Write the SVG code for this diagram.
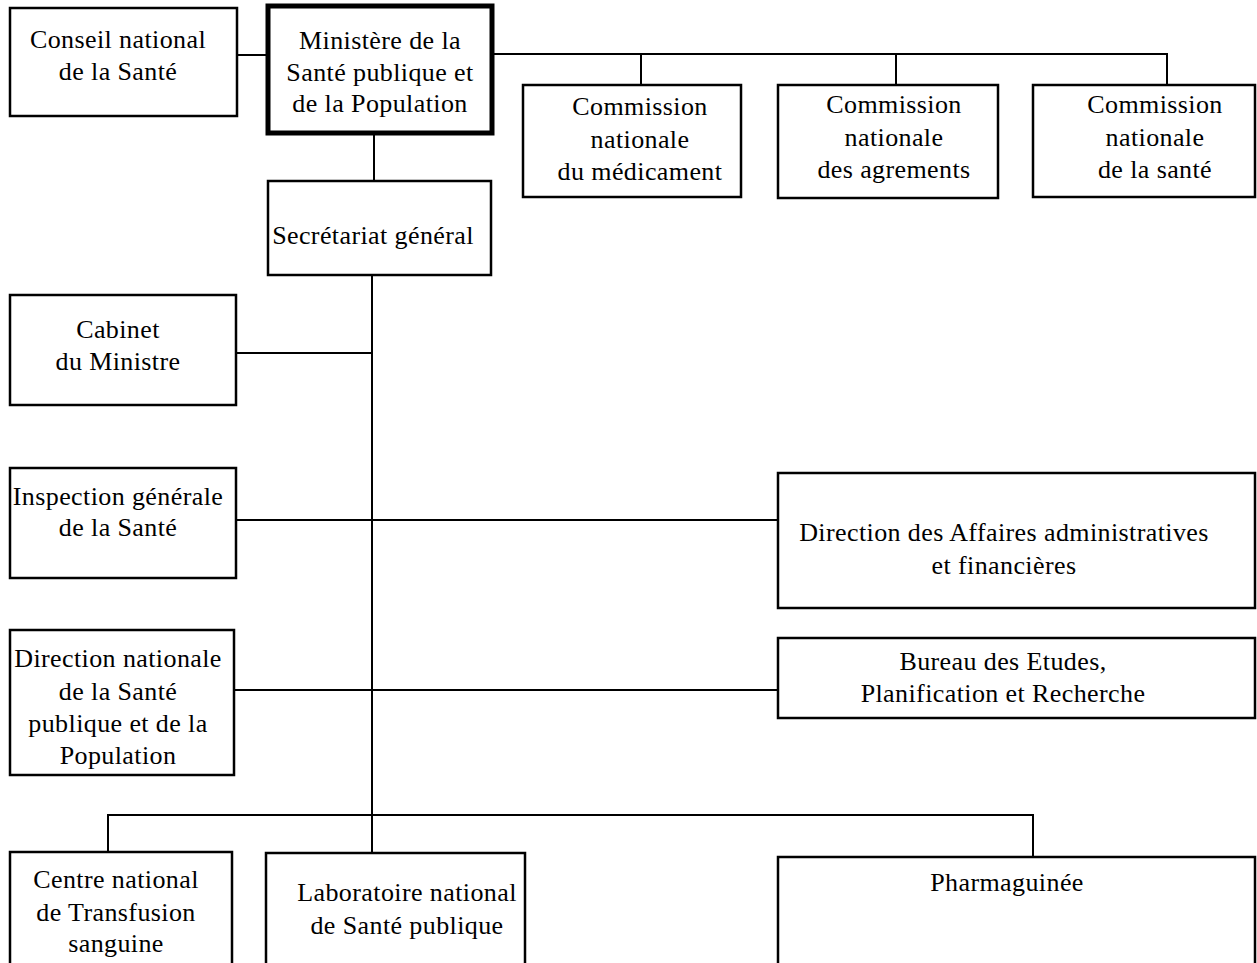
<svg xmlns="http://www.w3.org/2000/svg" width="1257" height="963" viewBox="0 0 1257 963">
<style>
.box{fill:#fff;stroke:#000;stroke-width:2.5}
.thick{stroke-width:5}
.t{font-family:"Liberation Serif","Times New Roman",serif;font-size:26px;letter-spacing:0.4px;fill:#000;text-anchor:middle}
.c{stroke:#000;stroke-width:2;fill:none}
</style>
<rect width="1257" height="963" fill="#fff"/>
<g id="connectors">
<line class="c" x1="237" y1="55" x2="268" y2="55"/>
<polyline class="c" points="492,54 1167,54 1167,85"/>
<line class="c" x1="641" y1="54" x2="641" y2="85"/>
<line class="c" x1="896" y1="54" x2="896" y2="85"/>
<line class="c" x1="374" y1="133" x2="374" y2="181"/>
<line class="c" x1="372" y1="275" x2="372" y2="853"/>
<line class="c" x1="236" y1="353" x2="372" y2="353"/>
<line class="c" x1="236" y1="520" x2="778" y2="520"/>
<line class="c" x1="234" y1="690" x2="778" y2="690"/>
<polyline class="c" points="108,852 108,815 1033,815 1033,857"/>
</g>
<g id="conseil"><rect class="box" x="10" y="8" width="227" height="108"/><text class="t" x="118" y="48">Conseil national</text><text class="t" x="118" y="80">de la Santé</text></g>
<g id="ministere"><rect class="box thick" x="268" y="6" width="224" height="127"/><text class="t" x="380" y="49">Ministère de la</text><text class="t" x="380" y="81">Santé publique et</text><text class="t" x="380" y="112">de la Population</text></g>
<g id="secretariat"><rect class="box" x="268" y="181" width="223" height="94"/><text class="t" x="373" y="244">Secrétariat général</text></g>
<g id="com1"><rect class="box" x="523" y="85" width="218" height="112"/><text class="t" x="640" y="115">Commission</text><text class="t" x="640" y="148">nationale</text><text class="t" x="640" y="180">du médicament</text></g>
<g id="com2"><rect class="box" x="778" y="85" width="220" height="113"/><text class="t" x="894" y="113">Commission</text><text class="t" x="894" y="146">nationale</text><text class="t" x="894" y="178">des agrements</text></g>
<g id="com3"><rect class="box" x="1033" y="85" width="222" height="112"/><text class="t" x="1155" y="113">Commission</text><text class="t" x="1155" y="146">nationale</text><text class="t" x="1155" y="178">de la santé</text></g>
<g id="cabinet"><rect class="box" x="10" y="295" width="226" height="110"/><text class="t" x="118" y="338">Cabinet</text><text class="t" x="118" y="370">du Ministre</text></g>
<g id="inspection"><rect class="box" x="10" y="468" width="226" height="110"/><text class="t" x="118" y="505">Inspection générale</text><text class="t" x="118" y="536">de la Santé</text></g>
<g id="daf"><rect class="box" x="778" y="473" width="477" height="135"/><text class="t" x="1004" y="541">Direction des Affaires administratives</text><text class="t" x="1004" y="574">et financières</text></g>
<g id="dnsp"><rect class="box" x="10" y="630" width="224" height="145"/><text class="t" x="118" y="667">Direction nationale</text><text class="t" x="118" y="700">de la Santé</text><text class="t" x="118" y="732">publique et de la</text><text class="t" x="118" y="764">Population</text></g>
<g id="bureau"><rect class="box" x="778" y="638" width="477" height="80"/><text class="t" x="1003" y="670">Bureau des Etudes,</text><text class="t" x="1003" y="702">Planification et Recherche</text></g>
<g id="cnts"><rect class="box" x="10" y="852" width="222" height="120"/><text class="t" x="116" y="888">Centre national</text><text class="t" x="116" y="921">de Transfusion</text><text class="t" x="116" y="952">sanguine</text></g>
<g id="lnsp"><rect class="box" x="266" y="853" width="259" height="120"/><text class="t" x="407" y="901">Laboratoire national</text><text class="t" x="407" y="934">de Santé publique</text></g>
<g id="pharma"><rect class="box" x="778" y="857" width="477" height="120"/><text class="t" x="1007" y="891">Pharmaguinée</text></g>
</svg>
